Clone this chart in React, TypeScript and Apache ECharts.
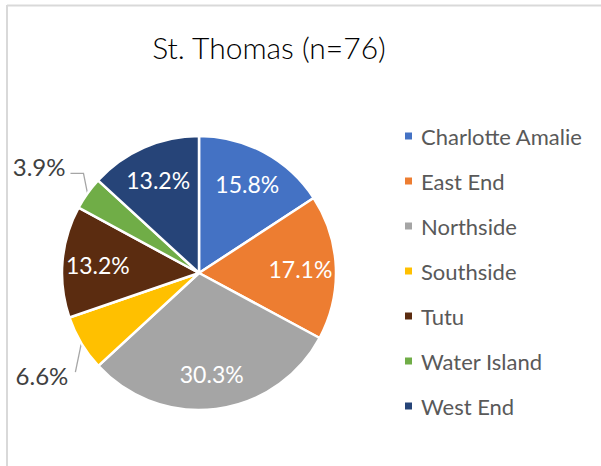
import React, { useEffect, useRef } from "react";
import * as echarts from "echarts";

const TITLE = "St. Thomas (n=76)";
const categories = ["Charlotte Amalie", "East End", "Northside", "Southside", "Tutu", "Water Island", "West End"];
const percents = [15.8, 17.1, 30.3, 6.6, 13.2, 3.9, 13.2];
const colors = ["#4472C4", "#ED7D31", "#A5A5A5", "#FFC000", "#5B2C10", "#70AD47", "#264478"];
const outsideLabelled = ["Southside", "Water Island"];

const FONT = "Lato, 'Open Sans', sans-serif";

export default function App() {
  const ref = useRef<HTMLDivElement>(null);
  useEffect(() => {
    if (!ref.current) return;
    const chart = echarts.init(ref.current, null, { renderer: "svg" });
    const center = [199, 273];
    const R = 137;
    const mainData = categories.map((name, i) => {
      const outside = outsideLabelled.includes(name);
      return {
        name,
        value: percents[i],
        itemStyle: { color: colors[i] },
        label: { show: outside },
        labelLine: { show: outside },
      };
    });
    const overlayData = categories.map((name, i) => ({
      name,
      value: percents[i],
      label: { show: !outsideLabelled.includes(name) },
    }));
    chart.setOption({
      animation: false,
      backgroundColor: "#ffffff",
      title: {
        text: TITLE,
        left: 264,
        top: 27,
        textAlign: "center",
        textStyle: { fontFamily: FONT, fontSize: 30, fontWeight: 300, color: "#000000" },
      },
      legend: {
        orient: "vertical",
        left: 398,
        top: 120,
        icon: "rect",
        itemWidth: 9,
        itemHeight: 9,
        itemGap: 23,
        data: categories,
        textStyle: { fontFamily: FONT, fontSize: 22, color: "#595959", lineHeight: 22, padding: [0, 0, 0, 3] },
      },
      graphic: [
        { type: "line", shape: { x1: 7, y1: 5.5, x2: 601, y2: 5.5 }, style: { stroke: "#D9D9D9", lineWidth: 2 }, silent: true },
        { type: "line", shape: { x1: 7, y1: 5, x2: 7, y2: 466 }, style: { stroke: "#D9D9D9", lineWidth: 2 }, silent: true },
      ],
      series: [
        {
          type: "pie",
          name: "main",
          center,
          radius: [0, R],
          startAngle: 90,
          clockwise: true,
          avoidLabelOverlap: false,
          itemStyle: { borderColor: "#ffffff", borderWidth: 2.5 },
          label: {
            position: "outside",
            formatter: (p: any) => p.value.toFixed(1) + "%",
            fontFamily: FONT,
            fontSize: 24,
            color: "#404040",
          },
          labelLine: { length: 15, length2: 12, lineStyle: { color: "#A6A6A6", width: 1.3 } },
          labelLayout: (params: any) => {
            const pts = params.labelLinePoints;
            if (!pts || !pts[0]) return {};
            const p0 = pts[0];
            const name = categories[params.dataIndex];
            if (name === "Water Island") {
              const p1 = [p0[0] - 4, p0[1] - 20];
              const p2 = [p1[0] - 13, p1[1]];
              return { x: p2[0] - 5, y: p2[1] - 7, align: "right", verticalAlign: "middle", labelLinePoints: [p0, p1, p2] };
            }
            if (name === "Southside") {
              const p1 = [p0[0] - 6, p0[1] + 29];
              return { x: p1[0] - 7, y: p1[1] + 3, align: "right", verticalAlign: "middle", labelLinePoints: [p0, p1, p1] };
            }
            return {};
          },
          emphasis: { disabled: true },
          data: mainData,
        },
        {
          type: "pie",
          name: "labels",
          center,
          radius: [60, R],
          startAngle: 90,
          clockwise: true,
          silent: true,
          itemStyle: { color: "rgba(0,0,0,0)", borderWidth: 0 },
          label: {
            position: "inside",
            formatter: (p: any) => p.value.toFixed(1) + "%",
            fontFamily: FONT,
            fontSize: 23,
            color: "#ffffff",
          },
          labelLine: { show: false },
          emphasis: { disabled: true },
          data: overlayData,
        },
      ],
    });
    return () => chart.dispose();
  }, []);
  return <div ref={ref} style={{ position: "fixed", left: 0, top: 0, width: 601, height: 466 }} />;
}
